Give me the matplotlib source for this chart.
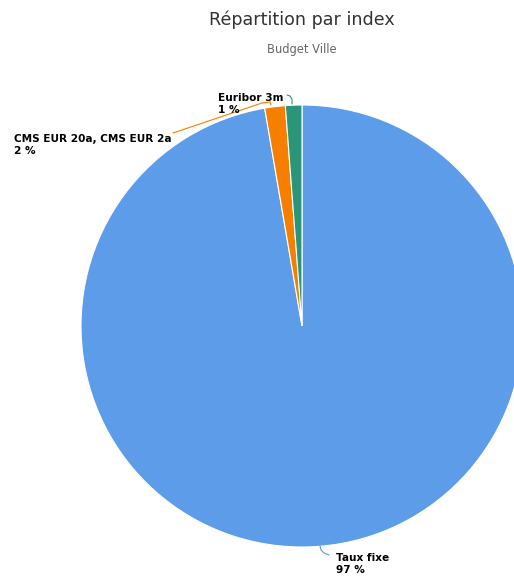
import numpy as np
import matplotlib
matplotlib.use("Agg")
from matplotlib import pyplot as plt

# Données du graphique
categories = ["Taux fixe", "CMS EUR 20a, CMS EUR 2a", "Euribor 3m"]
valeurs = [97.3, 1.5, 1.2]
pourcentages = ["97 %", "2 %", "1 %"]
couleurs = ["#5c9ce9", "#f77f00", "#2b9579"]

W, H = 514, 579
fig = plt.figure(figsize=(W / 100, H / 100), dpi=100)

# centre du camembert en pixels et rayon
cx, cy, r = 302, 326, 221
ax = fig.add_axes([(cx - r) / W, (H - cy - r) / H, 2 * r / W, 2 * r / H])

wedges, _ = ax.pie(valeurs, colors=couleurs, startangle=90, counterclock=False,
                   radius=1, wedgeprops=dict(edgecolor="white", linewidth=0.8))
for w in wedges:
    w.set_clip_on(False)

# pie() change les limites, on les remet après
ax.set_xlim(-1, 1)
ax.set_ylim(-1, 1)
ax.set_aspect("equal")
ax.axis("off")


def px(x, y):
    # pixels -> coordonnées du camembert
    return (x - cx) / r, (cy - y) / r


# lignes de rappel
def ligne(points, couleur):
    pts = [px(x, y) for x, y in points]
    ax.plot([p[0] for p in pts], [p[1] for p in pts], color=couleur, lw=0.8,
            clip_on=False, solid_capstyle="round")


ligne([(320, 546), (321, 550), (324, 553), (329, 555)], couleurs[0])
ligne([(173, 133), (262, 103), (270, 102), (271, 105)], couleurs[1])
ligne([(287, 95), (290, 96), (292, 99), (292, 104)], couleurs[2])

# étiquettes
positions = [(336, 564), (14, 145), (218, 104)]
for cat, pct, (x, y) in zip(categories, pourcentages, positions):
    tx, ty = px(x, y)
    ax.text(tx, ty, cat + "\n" + pct, fontsize=7.6, fontweight="bold",
            color="black", ha="left", va="center", linespacing=1.3,
            clip_on=False)

fig.text(cx / W, 1 - 20 / H, "Répartition par index", fontsize=12.6,
         color="#333333", ha="center", va="center")
fig.text(cx / W, 1 - 50 / H, "Budget Ville", fontsize=8.3,
         color="#666666", ha="center", va="center")

fig.savefig("out.png", dpi=100)
